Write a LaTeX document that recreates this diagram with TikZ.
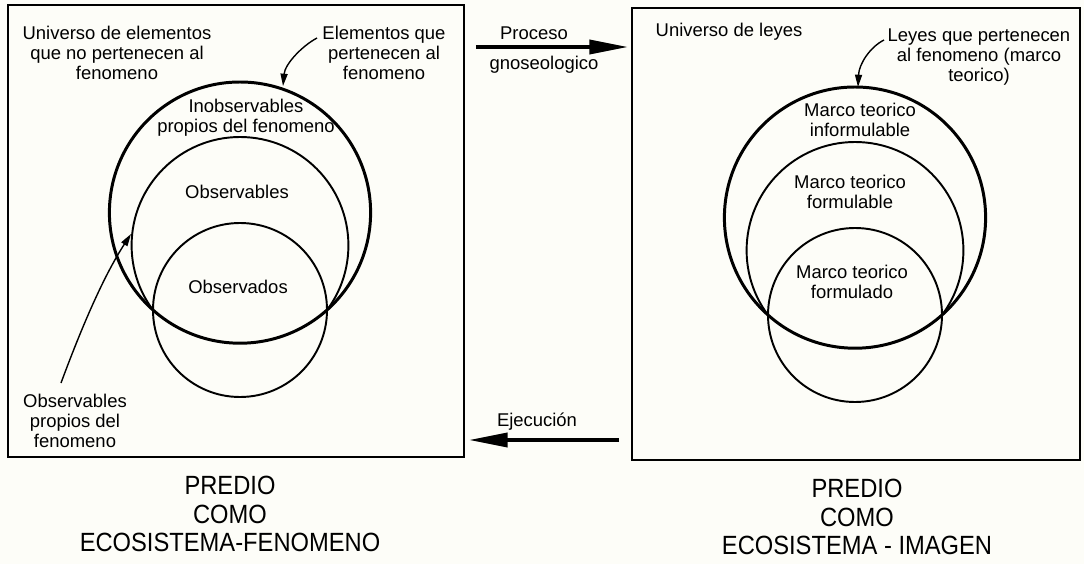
\documentclass[tikz,border=0pt]{standalone}
\usepackage{fontspec}
\setmainfont{Liberation Sans}
\newfontfamily\capfont[FakeStretch=0.9]{Liberation Sans}
\usetikzlibrary{arrows.meta}

\definecolor{paper}{RGB}{253,253,248}

\begin{document}
\begin{tikzpicture}[x=0.02cm, y=-0.02cm,
  txt/.style={align=center, inner sep=0pt, font=\fontsize{10.5}{11.6}\selectfont},
  caption/.style={align=center, inner sep=0pt, font=\capfont\fontsize{15}{16.2}\selectfont},
  frame/.style={draw, line width=1.1pt, inner sep=0pt},
  thickring/.style={line width=1.7pt},
  ring/.style={line width=1.1pt},
  pointer/.style={line width=0.8pt, -{Triangle[length=7pt,width=4pt]}},
  flow/.style={line width=2pt, -{Triangle[length=22pt,width=8pt]}}]

\useasboundingbox (0,0) rectangle (1084,564);
\fill[paper] (0,0) rectangle (1084,564);

% the two boxes
\node(fenbox)[frame, minimum width=9.12cm, minimum height=9.04cm] at (236,231) {};
\node(imgbox)[frame, minimum width=8.96cm, minimum height=9.04cm] at (856,234) {};

% circles of the phenomenon
\coordinate(fbig) at (240,212.6);
\coordinate(fmid) at (240,245.4);
\coordinate(fsmall) at (240,310);

\draw[thickring] (fbig) circle (130.6);
\begin{scope}
\clip (fbig) circle (130.6);
\draw[ring] (fmid) circle (108.4);
\end{scope}
\draw[ring] (fsmall) circle (87);

% circles of the image
\coordinate(ibig) at (855,217.6);
\coordinate(imid) at (855,250.4);
\coordinate(ismall) at (855,315);

\draw[thickring] (ibig) circle (130.6);
\begin{scope}
\clip (ibig) circle (130.6);
\draw[ring] (imid) circle (108.4);
\end{scope}
\draw[ring] (ismall) circle (87);

% labels, left
\node(univ)[txt] at (117,53) {Universo de elementos\\que no pertenecen al\\fenomeno};
\node(elem)[txt] at (384,53) {Elementos que\\pertenecen al\\fenomeno};
\node(inobs)[txt] at (246,118) {Inobservables\\propios del fenomeno};
\node(obsbles)[txt] at (237,192) {Observables};
\node(obsdos)[txt] at (238,287) {Observados};
\node(obsprop)[txt] at (75,421) {Observables\\propios del\\fenomeno};

% labels, right
\node(leyes)[txt] at (729,32) {Universo de leyes};
\node(leyesfen)[txt] at (979,57) {Leyes que pertenecen\\al fenomeno (marco\\teorico)};
\node(mti)[txt] at (860,120) {Marco teorico\\informulable};
\node(mtf)[txt] at (850,192) {Marco teorico\\formulable};
\node(mtd)[txt] at (852,282) {Marco teorico\\formulado};

% labels between the boxes
\node(proc)[txt] at (534,33) {Proceso};
\node(gnos)[txt] at (544,65) {gnoseologico};
\node(ejec)[txt] at (537,422) {Ejecución};

\node(fencap)[caption] at (230,514) {PREDIO\\COMO\\ECOSISTEMA-FENOMENO};
\node(imgcap)[caption] at (857,517) {PREDIO\\COMO\\ECOSISTEMA - IMAGEN};

% pointers
\coordinate(elemtail) at (317,38);
\coordinate(elemtip) at (283,86);
\draw[pointer] (elemtail) .. controls (302,46) and (285,64) .. (elemtip);

\coordinate(optail) at (61,383);
\coordinate(optip) at (131,234);
\draw[pointer] (optail) .. controls (81,329) and (103,277) .. (optip);

\coordinate(leyestail) at (884,40);
\coordinate(leyestip) at (858,87);
\draw[pointer] (leyestail) .. controls (870,47) and (859,64) .. (leyestip);

% process arrows
\coordinate(procrow) at (550,47);
\coordinate(ejecrow) at (550,440);
\draw[flow, shorten <=0.22cm, shorten >=0.06cm] (fenbox.east |- procrow) -- (imgbox.west |- procrow);
\draw[flow, shorten <=0.24cm, shorten >=0.08cm] (imgbox.west |- ejecrow) -- (fenbox.east |- ejecrow);

\end{tikzpicture}
\end{document}
